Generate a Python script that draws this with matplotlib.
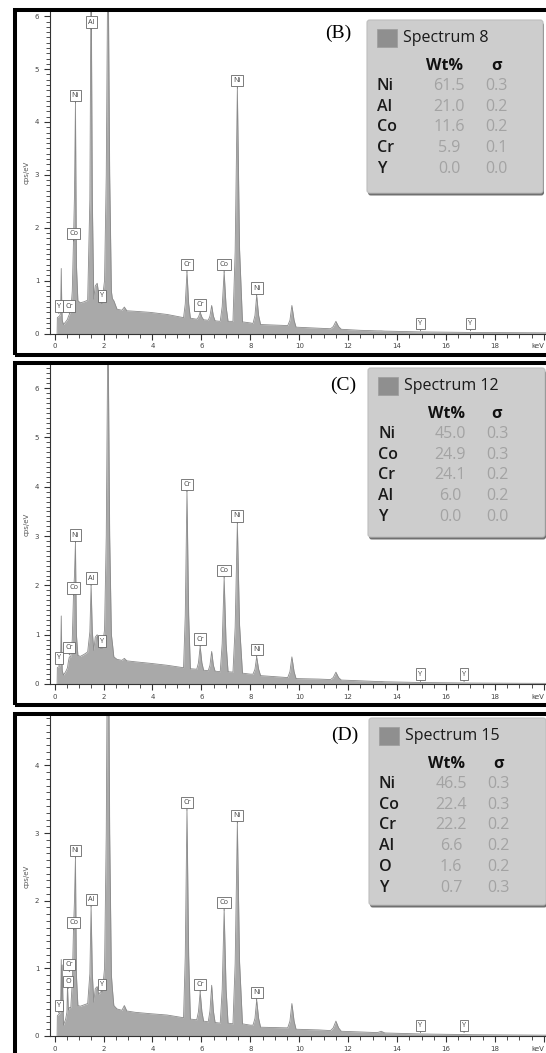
import matplotlib
matplotlib.use("Agg")
import matplotlib.pyplot as plt
from matplotlib.patches import Rectangle, FancyBboxPatch
from matplotlib.ticker import MultipleLocator

W, H = 546, 1053  # output size in pixels

# EDS spectra, outline knots (keV, cps/eV)
energy_kev = [
    0.10, 0.11, 0.20, 0.23, 0.25, 0.27, 0.29, 0.31, 0.36,
    0.45, 0.50, 0.525, 0.56, 0.60, 0.66,
    0.72, 0.77, 0.81, 0.85, 0.89, 0.95, 1.05, 1.20,
    1.35, 1.44, 1.49, 1.54, 1.60,
    1.66, 1.74, 1.80, 1.88, 1.96,
    2.04, 2.11, 2.18, 2.25, 2.32, 2.36, 2.42,
    2.55, 2.75, 2.85, 2.95, 3.30, 3.90, 4.60,
    5.27, 5.34, 5.41, 5.48, 5.55,
    5.81, 5.88, 5.95, 6.02, 6.09,
    6.28, 6.35, 6.42, 6.49, 6.56,
    6.77, 6.85, 6.93, 7.01, 7.09,
    7.29, 7.38, 7.47, 7.56, 7.68, 8.00,
    8.11, 8.19, 8.26, 8.34, 8.42,
    9.53, 9.62, 9.70, 9.79, 9.87,
    10.80, 11.28, 11.39, 11.50, 11.61, 11.72,
    12.50, 13.20, 13.35, 13.50, 15.00, 17.00, 19.00, 20.30,
]
cps_b = [
    0.00, 0.30, 0.33, 0.36, 0.62, 1.23, 0.55, 0.25, 0.17,
    0.22, 0.25, 0.27, 0.32, 0.36, 0.42,
    0.80, 1.75, 2.60, 4.36, 1.30, 0.62, 0.58, 0.60,
    0.63, 2.55, 7.00, 2.55, 0.65,
    0.90, 0.95, 0.75, 0.58, 0.70,
    1.00, 3.00, 7.50, 3.00, 0.80, 0.66, 0.62,
    0.46, 0.44, 0.50, 0.43, 0.42, 0.40, 0.36,
    0.30, 0.56, 1.16, 0.56, 0.29,
    0.27, 0.31, 0.40, 0.31, 0.26,
    0.25, 0.33, 0.53, 0.33, 0.24,
    0.23, 0.51, 1.16, 0.51, 0.23,
    0.23, 1.55, 4.64, 1.60, 0.22, 0.20,
    0.19, 0.34, 0.72, 0.34, 0.17,
    0.15, 0.25, 0.53, 0.25, 0.12,
    0.10, 0.09, 0.13, 0.23, 0.13, 0.08,
    0.06, 0.05, 0.05, 0.045, 0.03, 0.02, 0.015, 0.012,
]
cps_c = [
    0.00, 0.33, 0.36, 0.40, 0.70, 1.38, 0.60, 0.27, 0.18,
    0.25, 0.30, 0.33, 0.45, 0.55, 0.55,
    0.90, 1.80, 2.20, 2.87, 1.00, 0.58, 0.56, 0.60,
    0.65, 1.06, 2.00, 1.06, 0.68,
    0.95, 1.00, 0.80, 0.72, 0.80,
    1.10, 3.00, 7.50, 3.00, 1.00, 0.83, 0.55,
    0.50, 0.48, 0.52, 0.47, 0.45, 0.42, 0.38,
    0.33, 1.39, 3.90, 1.39, 0.31,
    0.30, 0.43, 0.76, 0.43, 0.28,
    0.27, 0.38, 0.66, 0.38, 0.26,
    0.25, 0.82, 2.15, 0.82, 0.25,
    0.24, 1.15, 3.26, 1.20, 0.22, 0.20,
    0.20, 0.30, 0.55, 0.30, 0.17,
    0.13, 0.25, 0.55, 0.25, 0.11,
    0.10, 0.09, 0.13, 0.24, 0.13, 0.08,
    0.065, 0.05, 0.05, 0.045, 0.03, 0.02, 0.015, 0.012,
]
cps_d = [
    0.00, 0.30, 0.33, 0.36, 0.60, 1.13, 0.50, 1.05, 0.16,
    0.25, 0.35, 0.74, 0.38, 0.42, 0.42,
    0.80, 1.57, 2.00, 2.63, 0.90, 0.45, 0.44, 0.46,
    0.48, 0.92, 1.91, 0.92, 0.50,
    0.70, 0.73, 0.62, 0.65, 0.70,
    1.00, 3.00, 7.50, 3.00, 0.90, 0.70, 0.45,
    0.40, 0.38, 0.45, 0.37, 0.35, 0.33, 0.31,
    0.27, 1.18, 3.34, 1.18, 0.25,
    0.24, 0.36, 0.65, 0.36, 0.22,
    0.21, 0.37, 0.75, 0.37, 0.20,
    0.19, 0.69, 1.86, 0.69, 0.19,
    0.18, 1.07, 3.15, 1.10, 0.18, 0.16,
    0.16, 0.26, 0.53, 0.26, 0.13,
    0.12, 0.22, 0.48, 0.22, 0.10,
    0.09, 0.08, 0.12, 0.22, 0.12, 0.07,
    0.06, 0.05, 0.07, 0.045, 0.03, 0.02, 0.015, 0.012,
]

# peak markers: element, keV, cps at the marker tip
lab_b = ["Y", "Cr", "Co", "Ni", "Al", "Y", "Cr", "Cr", "Co", "Ni", "Ni", "Y", "Y"]
lab_kev_b = [0.17, 0.60, 0.78, 0.85, 1.49, 1.93, 5.41, 5.95, 6.93, 7.47, 8.26, 14.96, 17.0]
lab_cps_b = [0.38, 0.38, 1.75, 4.36, 5.75, 0.57, 1.16, 0.40, 1.16, 4.64, 0.72, 0.05, 0.05]

lab_c = ["Y", "Cr", "Co", "Ni", "Al", "Y", "Cr", "Cr", "Co", "Ni", "Ni", "Y", "Y"]
lab_kev_c = [0.17, 0.60, 0.78, 0.85, 1.49, 1.93, 5.41, 5.95, 6.93, 7.47, 8.26, 14.96, 16.74]
lab_cps_c = [0.38, 0.59, 1.80, 2.87, 2.00, 0.72, 3.90, 0.76, 2.15, 3.26, 0.55, 0.05, 0.05]

lab_d = ["Y", "O", "Cr", "Co", "Ni", "Al", "Y", "Cr", "Cr", "Co", "Ni", "Ni", "Y", "Y"]
lab_kev_d = [0.17, 0.55, 0.60, 0.78, 0.85, 1.49, 1.93, 5.41, 5.95, 6.93, 7.47, 8.26, 14.96, 16.74]
lab_cps_d = [0.34, 0.70, 0.95, 1.57, 2.63, 1.91, 0.65, 3.34, 0.65, 1.86, 3.15, 0.53, 0.05, 0.05]

# quantification tables
elems_b = ["Ni", "Al", "Co", "Cr", "Y"]
wt_b = [61.5, 21.0, 11.6, 5.9, 0.0]
sig_b = [0.3, 0.2, 0.2, 0.1, 0.0]

elems_c = ["Ni", "Co", "Cr", "Al", "Y"]
wt_c = [45.0, 24.9, 24.1, 6.0, 0.0]
sig_c = [0.3, 0.3, 0.2, 0.2, 0.0]

elems_d = ["Ni", "Co", "Cr", "Al", "O", "Y"]
wt_d = [46.5, 22.4, 22.2, 6.6, 1.6, 0.7]
sig_d = [0.3, 0.3, 0.2, 0.2, 0.2, 0.3]

FILL = "#a9a9a9"
EDGE = "#8a8a8a"
SANS = ["Open Sans", "DejaVu Sans"]

fig = plt.figure(figsize=(W / 100, H / 100), dpi=100)


def fx(x):
    return x / W


def fy(y):
    return 1 - y / H


def draw_legend(box, name, elems, wt, sig):
    x0, y0, w, h = box
    shadow = FancyBboxPatch((fx(x0 + 1), fy(y0 + h + 2.5)), w / W, h / H,
                            boxstyle="round,pad=0,rounding_size=0.005", mutation_aspect=W / H,
                            transform=fig.transFigure, fc="#707070", ec="none")
    fig.add_artist(shadow)
    panel = FancyBboxPatch((fx(x0), fy(y0 + h)), w / W, h / H,
                           boxstyle="round,pad=0,rounding_size=0.005", mutation_aspect=W / H,
                           transform=fig.transFigure, fc="#cdcdcd", ec="#bdbdbd", lw=0.8)
    fig.add_artist(panel)
    fig.add_artist(Rectangle((fx(x0 + 10), fy(y0 + 27)), 20 / W, 18 / H,
                             transform=fig.transFigure, fc="#8f8f8f", ec="#9c9c9c", lw=0.5))
    fig.text(fx(x0 + 36), fy(y0 + 18), name, fontsize=11.5, family=SANS,
             ha="left", va="center", color="#1a1a1a")
    fig.text(fx(x0 + 78), fy(y0 + 46), "Wt%", fontsize=11.5, family=SANS,
             weight="bold", ha="center", va="center", color="#111111")
    fig.text(fx(x0 + 129), fy(y0 + 46), "σ", fontsize=11.5, family=SANS,
             weight="bold", ha="center", va="center", color="#111111")
    for i, (e, v, s) in enumerate(zip(elems, wt, sig)):
        y = y0 + 66 + i * 20.7
        fig.text(fx(x0 + 10), fy(y), e, fontsize=11.5, family=SANS, weight="semibold",
                 ha="left", va="center", color="#1a1a1a")
        fig.text(fx(x0 + 82), fy(y), f"{v:.1f}", fontsize=11.5, family=SANS,
                 ha="center", va="center", color="#a3a3a3")
        fig.text(fx(x0 + 129), fy(y), f"{s:.1f}", fontsize=11.5, family=SANS,
                 ha="center", va="center", color="#a3a3a3")


def draw_panel(frame, ax_top, ax_zero, ymax, cps, labs, lab_kev, lab_cps,
               tag, tag_xy, name, box, elems, wt, sig):
    ftop, fbot = frame
    fig.add_artist(Rectangle((fx(14.5), fy(fbot)), 600 / W, (fbot - ftop) / H,
                             transform=fig.transFigure, fill=False, lw=2.9, ec="black"))

    ax = fig.add_axes([fx(50), fy(ax_zero), fx(W - 50), (ax_zero - ax_top) / H])
    ax.fill_between(energy_kev, cps, color=FILL, lw=0, zorder=2)
    ax.plot(energy_kev, cps, color=EDGE, lw=0.6, zorder=3)

    ax.set_xlim(-0.19, 20.09)
    ax.set_ylim(0, ymax)
    for s in ("top", "right"):
        ax.spines[s].set_visible(False)
    ax.spines["left"].set_color("#333333")
    ax.spines["bottom"].set_color("#333333")
    ax.spines["left"].set_linewidth(0.8)
    ax.spines["bottom"].set_linewidth(0.8)

    ax.set_xticks(range(0, 21, 2))
    ax.set_xticklabels([str(v) for v in range(0, 20, 2)] + ["keV"])
    ax.get_xticklabels()[-1].set_horizontalalignment("right")
    ax.xaxis.set_minor_locator(MultipleLocator(0.5))
    ax.yaxis.set_major_locator(MultipleLocator(1))
    ax.yaxis.set_minor_locator(MultipleLocator(0.1))
    ax.tick_params(axis="both", which="major", direction="out", length=4.2, width=0.8,
                   labelsize=5, labelcolor="#444444", color="#333333")
    ax.tick_params(axis="x", which="major", pad=3)
    ax.tick_params(axis="both", which="minor", direction="out", length=2.8, width=0.6,
                   color="#333333")
    ax.set_facecolor("none")
    fig.text(fx(27), fy((ax_top + ax_zero) / 2), "cps/eV", rotation=90, fontsize=5,
             ha="center", va="center", color="#555555")

    for t, k, c in zip(labs, lab_kev, lab_cps):
        ax.annotate(t, xy=(k, c), xytext=(0, 2.8), textcoords="offset points",
                    ha="center", va="bottom", fontsize=5.2, color="#444444", family=SANS,
                    bbox=dict(boxstyle="square,pad=0.3", fc="white", ec="#666666", lw=0.6),
                    arrowprops=dict(arrowstyle="-", color="#666666", lw=0.6,
                                    shrinkA=0, shrinkB=0),
                    annotation_clip=False, zorder=5)

    fig.text(fx(tag_xy[0]), fy(tag_xy[1]), tag, fontsize=14, family="Liberation Serif",
             ha="center", va="center", color="black")
    draw_legend(box, name, elems, wt, sig)


draw_panel((9.5, 354.5), 12, 333.5, 6.08, cps_b, lab_b, lab_kev_b, lab_cps_b,
           "(B)", (338, 33), "Spectrum 8", (367, 20, 176, 173), elems_b, wt_b, sig_b)
draw_panel((362.5, 704.5), 365, 684, 6.47, cps_c, lab_c, lab_kev_c, lab_cps_c,
           "(C)", (343, 385), "Spectrum 12", (368, 368, 177, 169), elems_c, wt_c, sig_c)
draw_panel((713.5, 1070), 716, 1036, 4.73, cps_d, lab_d, lab_kev_d, lab_cps_d,
           "(D)", (345, 735), "Spectrum 15", (369, 718, 177, 187), elems_d, wt_d, sig_d)

fig.savefig("out.png", dpi=100)
